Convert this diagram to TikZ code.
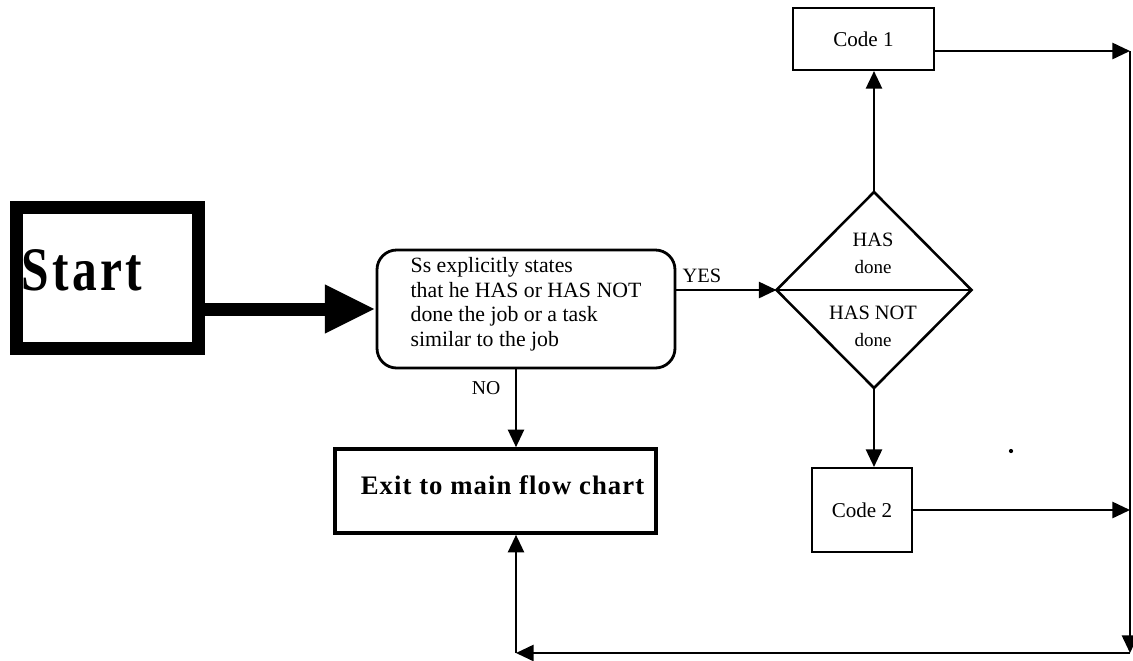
\documentclass[tikz,border=0pt]{standalone}
\usepackage{fontspec}
\setmainfont{Liberation Serif}
\newfontfamily\spacedfont[LetterSpace=4]{Liberation Serif}
\newfontfamily\widefont[LetterSpace=7]{Liberation Serif}
\usetikzlibrary{arrows.meta,shapes.geometric}
\newdimen\pxu \pxu=0.025cm
\begin{document}
\begin{tikzpicture}[x=0.025cm,y=-0.025cm,
  conn/.style={line width=1.4pt},
  arr/.style={conn,-{Triangle[length=12.5pt,width=11.5pt]}},
  codebox/.style={draw,line width=1.5pt,inner sep=0pt,font=\fontsize{15}{17}\selectfont},
  lbl/.style={inner sep=0pt,font=\fontsize{14.5}{17}\selectfont},
  small/.style={inner sep=0pt,font=\fontsize{13.5}{15}\selectfont}]
\useasboundingbox (0,0) rectangle (1133,660);

% start block: heavy frame with its caption set against the left edge
\node[draw,line width=13*\pxu,minimum width=182*\pxu,minimum height=141*\pxu,inner sep=0pt] (start) at (107.5,278) {};
\node[anchor=base west,inner sep=0pt,xscale=0.8,font=\widefont\bfseries\fontsize{44}{48}\selectfont] (starttxt) at (21,290) {Start};

% question box
\node[draw,line width=2pt,rounded corners=14pt,minimum width=298*\pxu,minimum height=118*\pxu,
      align=left,text depth=10pt,font=\fontsize{15.5}{17.5}\selectfont] (query) at (526,309)
  {Ss explicitly states\\that he HAS or HAS NOT\\done the job or a task\\similar to the job};

% decision diamond, split in two halves
\node[draw,diamond,line width=1.8pt,minimum width=195*\pxu,minimum height=196*\pxu,inner sep=0pt,outer sep=0pt] (dia) at (874,290) {};
\draw[line width=1.5pt] (dia.west) -- (dia.east);
\node[lbl] (has) at (873,240) {HAS};
\node[small] (hasdone) at (873,267) {done};
\node[lbl] (hasnot) at (873,313) {HAS NOT};
\node[small] (notdone) at (873,340) {done};

% outcome boxes
\node[codebox,minimum width=141*\pxu,minimum height=62*\pxu] (code1) at (863.5,39) {Code 1};
\node[codebox,minimum width=100*\pxu,minimum height=84*\pxu] (code2) at (862,510) {Code 2};

% exit box
\node[draw,line width=2.6pt,minimum width=321*\pxu,minimum height=84*\pxu,inner sep=0pt,text depth=9pt,
      font=\spacedfont\bfseries\fontsize{19}{22}\selectfont] (exit) at (495.5,491) {\hspace*{10pt}Exit to main flow chart};

% routing points on the right and bottom
\coordinate (r1) at (1130,51);
\coordinate (r2) at (1130,510);
\coordinate (rb) at (1130,653);
\coordinate (lb) at (516,653);

% connectors
\draw[line width=13*\pxu,-{Triangle[length=36pt,width=32pt]}] (start.east |- query.west) -- (query.west);
\draw[arr] (query.east |- dia.west) -- (dia.west);
\node[lbl] (yes) at (702,276) {YES};
\draw[arr] (query.south -| lb) -- (exit.north -| lb);
\node[lbl,font=\fontsize{14}{16}\selectfont] (no) at (486,388) {NO};
\draw[arr] (dia.north) -- (dia.north |- code1.south);
\draw[arr] (dia.south) -- (dia.south |- code2.north);
\draw[arr] (code1.east |- r1) -- (r1);
\draw[arr] (code2.east) -- (r2);
\draw[arr] (r1) -- (rb);
\draw[arr] (rb) -- (lb);
\draw[arr] (lb) -- (lb |- exit.south);

% speck to the right of the diamond
\node[circle,fill,inner sep=0pt,minimum size=3pt] (speck) at (1011,451) {};
\end{tikzpicture}
\end{document}
